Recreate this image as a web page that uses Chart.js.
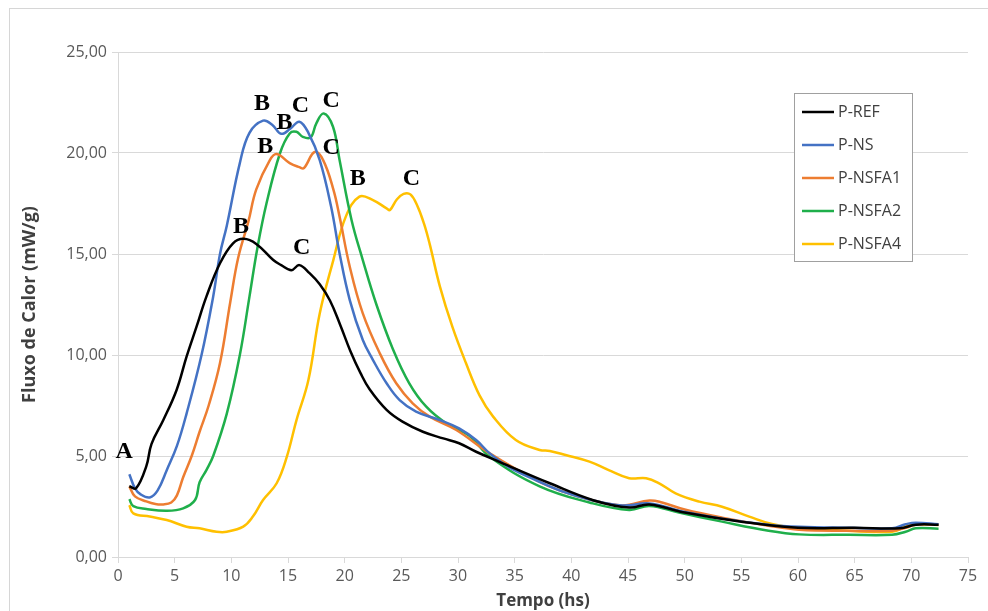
<!DOCTYPE html>
<html>
<head>
<meta charset="utf-8">
<script src="https://cdn.jsdelivr.net/npm/chart.js@4.4.1/dist/chart.umd.min.js"></script>
<style>
  html, body { margin: 0; padding: 0; background: #fff; overflow: hidden; }
  #frame { position: absolute; left: 9px; top: 8px; width: 1000px; height: 700px; border: 1px solid #d6d6d6; }
  #wrap { position: absolute; left: 0; top: 0; width: 988px; height: 611px; }
</style>
</head>
<body>
<div id="frame"></div>
<div id="wrap"><canvas id="chart-calor"></canvas></div>
<script>
// curvas de fluxo de calor (calorimetria)

const refTempo = [1.0, 1.6, 2.5, 2.96, 4.0, 5.17, 6.05, 6.93, 7.8, 9.0, 10.15, 11.1, 12.2, 13.7, 14.4, 15.3, 16.0, 16.9, 17.8, 18.7, 19.6, 20.5, 21.4, 22.2, 23.7, 25.1, 26.9, 28.7, 30.1, 31.6, 33.7, 38.1, 42.0, 45.1, 46.9, 50.0, 55.0, 60.0, 65.0, 69.0, 70.4, 72.4];
const refFluxo = [3.5, 3.4, 4.5, 5.6, 6.78, 8.27, 9.92, 11.4, 12.89, 14.54, 15.53, 15.75, 15.5, 14.7, 14.45, 14.2, 14.45, 14.05, 13.5, 12.7, 11.5, 10.2, 9.1, 8.3, 7.28, 6.7, 6.2, 5.87, 5.63, 5.21, 4.7, 3.65, 2.8, 2.45, 2.6, 2.2, 1.75, 1.45, 1.45, 1.42, 1.6, 1.6];

const nsTempo = [1.0, 1.5, 2.0, 2.8, 3.5, 4.3, 5.2, 6.05, 7.37, 8.4, 9.0, 9.6, 10.75, 11.6, 12.8, 13.6, 14.4, 15.2, 16.0, 16.8, 17.8, 18.8, 19.55, 20.45, 21.6, 22.5, 23.7, 24.85, 26.3, 28.4, 30.1, 31.6, 32.8, 34.5, 36.9, 39.2, 41.6, 44.5, 46.9, 49.8, 53.3, 57.4, 60.1, 64.5, 68.3, 69.5, 70.4, 72.4];
const nsFluxo = [4.1, 3.4, 3.1, 2.95, 3.3, 4.3, 5.5, 7.1, 10.0, 12.9, 15.0, 16.4, 19.5, 21.0, 21.6, 21.4, 20.95, 21.2, 21.55, 21.0, 19.65, 17.35, 15.03, 12.72, 10.74, 9.75, 8.6, 7.77, 7.2, 6.78, 6.37, 5.79, 5.13, 4.45, 3.8, 3.25, 2.85, 2.55, 2.65, 2.25, 1.9, 1.6, 1.5, 1.45, 1.42, 1.62, 1.7, 1.62];

const nsfa1Tempo = [1.0, 1.5, 2.5, 3.3, 4.0, 4.7, 5.2, 5.75, 6.5, 7.2, 8.0, 9.0, 9.9, 10.6, 11.5, 12.2, 13.4, 14.0, 15.15, 16.0, 16.4, 17.35, 18.1, 19.0, 19.55, 20.45, 21.6, 23.1, 24.55, 26.0, 27.5, 29.85, 32.8, 36.9, 39.2, 41.6, 44.5, 46.9, 48.0, 50.0, 53.3, 57.4, 60.1, 64.5, 68.3, 69.5, 70.4, 72.4];
const nsfa1Fluxo = [3.5, 3.0, 2.75, 2.62, 2.6, 2.7, 3.05, 3.95, 5.0, 6.2, 7.5, 9.6, 12.6, 14.8, 16.6, 18.2, 19.65, 19.95, 19.5, 19.3, 19.25, 20.05, 19.65, 18.2, 16.85, 14.37, 12.06, 10.08, 8.6, 7.61, 6.95, 6.29, 5.13, 3.8, 3.25, 2.85, 2.55, 2.8, 2.7, 2.35, 1.95, 1.55, 1.35, 1.3, 1.3, 1.45, 1.6, 1.6];

const nsfa2Tempo = [1.0, 1.35, 2.5, 4.3, 5.75, 6.8, 7.2, 7.8, 8.4, 9.6, 10.75, 11.6, 12.3, 13.1, 14.3, 15.15, 15.75, 16.3, 17.0, 17.5, 18.15, 18.97, 19.55, 20.6, 21.6, 22.8, 24.25, 25.7, 27.2, 29.0, 31.0, 32.8, 37.2, 41.6, 45.1, 46.9, 49.5, 53.3, 57.4, 60.1, 64.5, 68.3, 69.5, 70.4, 72.4];
const nsfa2Fluxo = [2.86, 2.52, 2.38, 2.29, 2.41, 2.82, 3.7, 4.3, 5.0, 7.1, 10.0, 12.89, 15.3, 17.5, 20.0, 20.97, 21.05, 20.8, 20.77, 21.47, 21.96, 21.3, 19.65, 16.7, 14.7, 12.5, 10.3, 8.6, 7.44, 6.6, 6.0, 4.96, 3.5, 2.7, 2.33, 2.53, 2.2, 1.75, 1.3, 1.12, 1.1, 1.1, 1.25, 1.42, 1.4];

const nsfa4Tempo = [1.0, 1.35, 2.8, 4.3, 6.05, 7.2, 8.7, 9.6, 11.05, 11.9, 12.8, 14.0, 14.9, 15.75, 16.8, 17.8, 19.0, 20.1, 21.3, 22.5, 23.7, 24.0, 24.6, 25.2, 25.8, 26.4, 27.0, 27.5, 28.4, 29.5, 30.7, 31.9, 33.1, 35.1, 37.2, 38.1, 39.5, 41.6, 43.3, 45.1, 46.6, 47.75, 49.2, 51.3, 53.3, 55.7, 57.7, 60.1, 63.0, 68.3, 69.5, 70.4, 72.4];
const nsfa4Fluxo = [2.57, 2.16, 2.0, 1.83, 1.5, 1.42, 1.25, 1.25, 1.5, 2.0, 2.82, 3.65, 4.97, 6.78, 8.76, 12.06, 14.7, 16.85, 17.84, 17.67, 17.26, 17.18, 17.7, 17.98, 17.95, 17.4, 16.5, 15.5, 13.4, 11.4, 9.6, 8.0, 6.95, 5.79, 5.3, 5.25, 5.05, 4.72, 4.3, 3.9, 3.9, 3.65, 3.15, 2.74, 2.49, 2.0, 1.63, 1.42, 1.34, 1.25, 1.5, 1.63, 1.58];

const serieNomes = ['P-REF', 'P-NS', 'P-NSFA1', 'P-NSFA2', 'P-NSFA4'];
const serieCores = ['#000000', '#4472C4', '#ED7D31', '#1FAF4B', '#FFC000'];

const yTicks = [0, 5, 10, 15, 20, 25];
const xTicks = [0, 5, 10, 15, 20, 25, 30, 35, 40, 45, 50, 55, 60, 65, 70, 75];

// letras A, B, C marcadas sobre os picos (coordenadas em unidades dos eixos)
const marcaTexto = ['A', 'B', 'C', 'B', 'C', 'B', 'C', 'B', 'C', 'B', 'C'];
const marcaTempo = [0.55, 12.7, 16.1, 14.7, 18.8, 13.0, 18.8, 21.15, 25.9, 10.85, 16.2];
const marcaFluxo = [5.2, 22.45, 22.35, 21.5, 22.6, 20.3, 20.25, 18.7, 18.7, 16.35, 15.3];

const series = [
  [refTempo, refFluxo],
  [nsTempo, nsFluxo],
  [nsfa1Tempo, nsfa1Fluxo],
  [nsfa2Tempo, nsfa2Fluxo],
  [nsfa4Tempo, nsfa4Fluxo]
];

const fmt = v => v.toFixed(2).replace('.', ',');

// plugin: letras de pico
const marcasPlugin = {
  id: 'marcas',
  afterDatasetsDraw(chart) {
    const { ctx, scales: { x, y } } = chart;
    ctx.save();
    ctx.fillStyle = '#000';
    ctx.font = "bold 24px 'Liberation Serif', 'DejaVu Serif', serif";
    ctx.textAlign = 'center';
    ctx.textBaseline = 'middle';
    marcaTexto.forEach((t, i) => {
      ctx.fillText(t, x.getPixelForValue(marcaTempo[i]), y.getPixelForValue(marcaFluxo[i]));
    });
    ctx.restore();
  }
};

// plugin: legenda em caixa dentro da área do gráfico
const legendaPlugin = {
  id: 'legendaCaixa',
  afterDraw(chart) {
    const { ctx } = chart;
    const box = { left: 794.5, top: 93.5, w: 118, h: 168 };
    ctx.save();
    ctx.fillStyle = '#fff';
    ctx.fillRect(box.left, box.top, box.w, box.h);
    ctx.strokeStyle = '#a0a0a0';
    ctx.lineWidth = 1;
    ctx.strokeRect(box.left, box.top, box.w, box.h);
    ctx.font = "16px 'Open Sans', sans-serif";
    ctx.textBaseline = 'middle';
    ctx.textAlign = 'left';
    chart.data.datasets.forEach((ds, i) => {
      const yy = 112 + i * 33;
      ctx.strokeStyle = ds.borderColor;
      ctx.lineWidth = 2.5;
      ctx.beginPath();
      ctx.moveTo(802, yy);
      ctx.lineTo(834, yy);
      ctx.stroke();
      ctx.fillStyle = '#404040';
      ctx.fillText(ds.label, 838, yy);
    });
    ctx.restore();
  }
};

function initChart() {
  Chart.defaults.font.family = "'Open Sans', sans-serif";
  Chart.defaults.color = '#595959';

  new Chart(document.getElementById('chart-calor'), {
    type: 'line',
    data: {
      datasets: series.map((s, i) => ({
        label: serieNomes[i],
        data: s[0].map((t, k) => ({ x: t, y: s[1][k] })),
        borderColor: serieCores[i],
        backgroundColor: serieCores[i],
        borderWidth: 2.5,
        pointRadius: 0,
        tension: 0.4,
        fill: false
      }))
    },
    options: {
      responsive: true,
      maintainAspectRatio: false,
      animation: false,
      layout: { padding: { left: 0, top: 52, right: 20, bottom: 0 } },
      plugins: { legend: { display: false }, tooltip: { enabled: false } },
      scales: {
        x: {
          type: 'linear',
          min: 0, max: 75,
          afterBuildTicks: sc => { sc.ticks = xTicks.map(v => ({ value: v })); },
          afterFit: sc => { sc.height = 54; },
          grid: { drawOnChartArea: false, drawTicks: true, tickLength: 6, color: '#d9d9d9' },
          border: { display: true, color: '#d9d9d9', width: 1 },
          ticks: { padding: 4, font: { size: 16 }, color: '#595959', maxRotation: 0 },
          title: { display: true, text: 'Tempo (hs)', color: '#404040', font: { size: 17, weight: 'bold' }, padding: { top: 0, bottom: 0 } }
        },
        y: {
          min: 0, max: 25,
          afterBuildTicks: sc => { sc.ticks = yTicks.map(v => ({ value: v })); },
          afterFit: sc => { sc.width = 118; },
          grid: { drawTicks: true, tickLength: 6, color: '#d9d9d9', lineWidth: 1 },
          border: { display: true, color: '#d9d9d9', width: 1 },
          ticks: { padding: 5, font: { size: 16 }, color: '#595959', callback: v => fmt(v) },
          title: { display: true, text: 'Fluxo de Calor (mW/g)', color: '#404040', font: { size: 18, weight: 'bold' }, padding: { top: 19, bottom: 0 } }
        }
      }
    },
    plugins: [marcasPlugin, legendaPlugin]
  });
}

initChart();
</script>
</body>
</html>
